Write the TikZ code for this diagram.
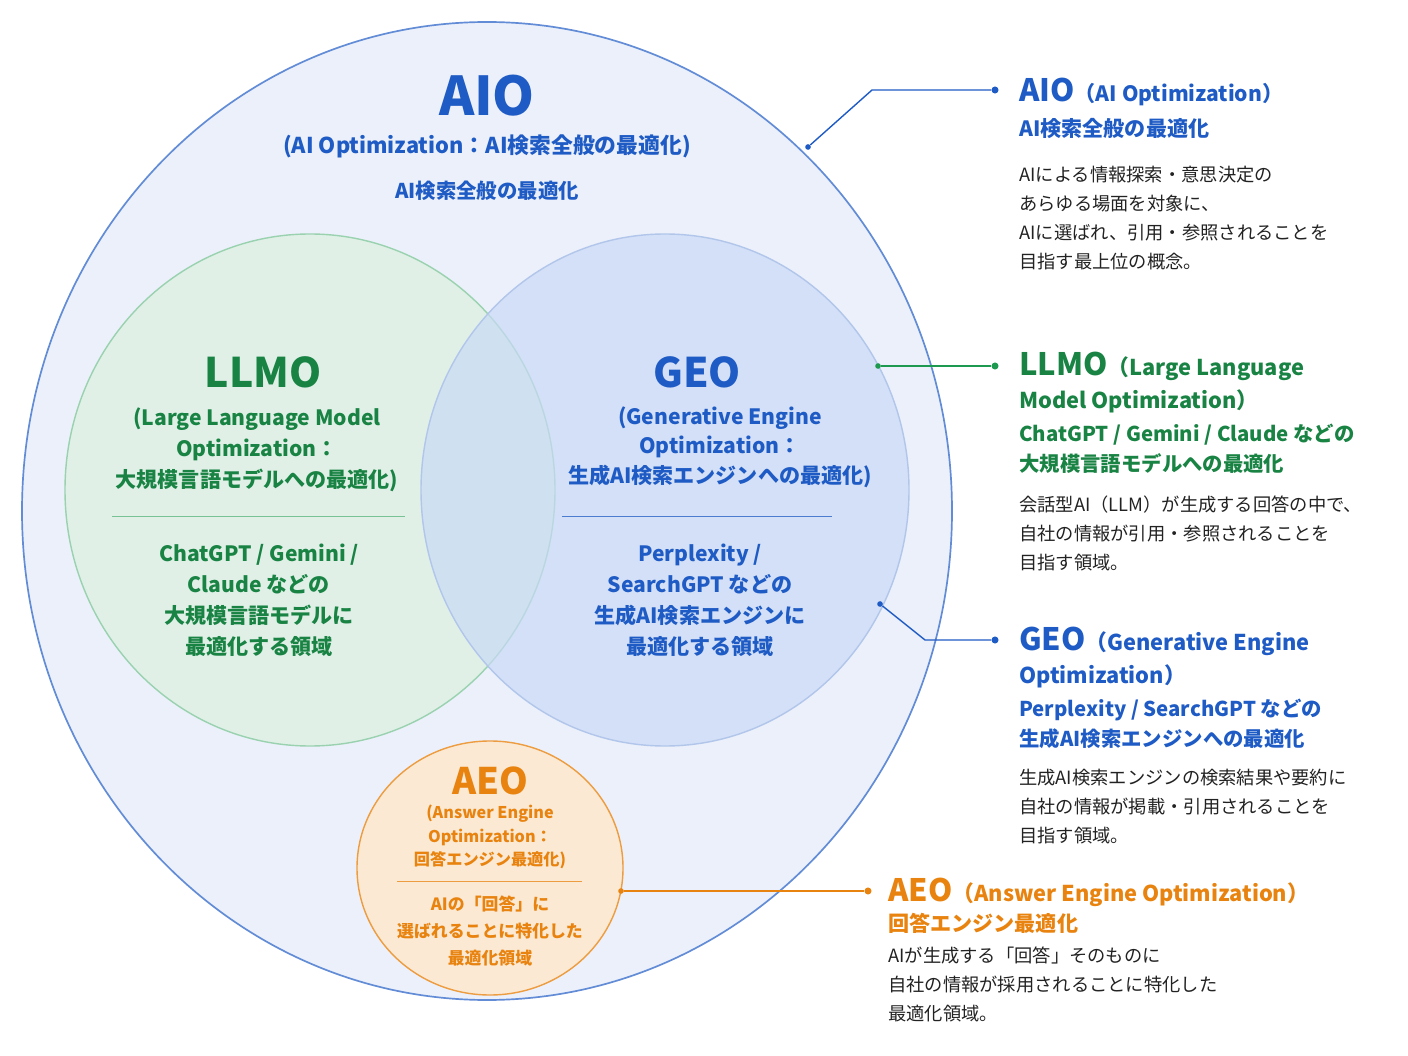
\documentclass[tikz,border=0pt]{standalone}
\usepackage{fontspec}
\setmainfont{Noto Sans CJK JP}
\definecolor{aioblue}{HTML}{1F5BC4}
\definecolor{llmogreen}{HTML}{1E9A50}
\definecolor{aeoorange}{HTML}{E8830F}
\definecolor{bodygray}{HTML}{222222}
\definecolor{geofill}{HTML}{C9DAF6}
\tikzset{
  ttl/.style={font=\fontsize{#1}{#1}\selectfont\bfseries, inner sep=0pt},
  sub/.style={font=\fontsize{13}{17}\selectfont\bfseries, align=center, inner sep=0pt},
  body/.style={font=\fontsize{13}{20.5}\selectfont, text=bodygray, align=left, anchor=north west, inner sep=0pt},
  dotnode/.style={circle, fill, inner sep=0pt, minimum size=5pt},
}
\begin{document}
\begin{tikzpicture}[x=0.025cm, y=-0.025cm]
  \useasboundingbox (0,0) rectangle (1408,1056);
  % circles
  \draw[aioblue!70, line width=1.2pt, fill=aioblue!9] (487,511) ellipse (465 and 489);
  \draw[llmogreen!45, line width=1pt, fill=llmogreen!14, fill opacity=0.9] (310,490) ellipse (245 and 256);
  \draw[aioblue!35, line width=1pt, fill=geofill, fill opacity=0.7] (665,490) ellipse (244 and 256);
  \draw[aeoorange!80, line width=1pt, fill=aeoorange!18] (490,868) ellipse (133 and 127);

  % AIO
  \node[ttl=38, text=aioblue] (aio) at (487,96) {AIO};
  \node[sub, text=aioblue, font=\fontsize{15.5}{18}\selectfont\bfseries] (aiosub) at (487,146) {(AI Optimization：AI検索全般の最適化)};
  \node[sub, text=aioblue, font=\fontsize{14.5}{18}\selectfont\bfseries] (aiodesc) at (487,191) {AI検索全般の最適化};

  % LLMO
  \node[ttl=29, text=llmogreen!85!black] (llmo) at (263,372) {LLMO};
  \node[sub, text=llmogreen!85!black, font=\fontsize{15}{22}\selectfont\bfseries] (llmosub) at (257,450) {(Large Language Model\\Optimization：\\大規模言語モデルへの最適化)};
  \draw[llmogreen!60] (112,516) -- (405,516);
  \node[sub, text=llmogreen!85!black, font=\fontsize{15}{22}\selectfont\bfseries] (llmodesc) at (259,600) {ChatGPT / Gemini /\\Claude などの\\大規模言語モデルに\\最適化する領域};

  % GEO
  \node[ttl=29, text=aioblue] (geo) at (697,372) {GEO};
  \node[sub, text=aioblue, font=\fontsize{15}{21}\selectfont\bfseries] (geosub) at (720,447) {(Generative Engine\\Optimization：\\生成AI検索エンジンへの最適化)};
  \draw[aioblue!80] (562,516) -- (832,516);
  \node[sub, text=aioblue, font=\fontsize{15}{22}\selectfont\bfseries] (geodesc) at (700,600) {Perplexity /\\SearchGPT などの\\生成AI検索エンジンに\\最適化する領域};

  % AEO
  \node[ttl=26, text=aeoorange] (aeo) at (490,781) {AEO};
  \node[sub, text=aeoorange, font=\fontsize{11.5}{16.5}\selectfont\bfseries] (aeosub) at (490,837) {(Answer Engine\\Optimization：\\回答エンジン最適化)};
  \draw[aeoorange!80] (397,881) -- (582,881);
  \node[sub, text=aeoorange, font=\fontsize{12}{19.5}\selectfont\bfseries] (aeodesc) at (490,931) {AIの「回答」に\\選ばれることに特化した\\最適化領域};

  % callouts
  \node[dotnode, aioblue, minimum size=4pt] (aiop) at (808,147) {};
  \node[dotnode, aioblue] (aioq) at (995,90) {};
  \draw[aioblue, line width=1pt] (aiop) -- (872,90) -- (aioq);
  \node[dotnode, llmogreen, minimum size=4pt] (llmop) at (878,366) {};
  \node[dotnode, llmogreen] (llmoq) at (995,366) {};
  \draw[llmogreen, line width=1pt] (llmop) -- (llmoq);
  \node[dotnode, aioblue, minimum size=4pt] (geop) at (880,604) {};
  \node[dotnode, aioblue] (geoq) at (995,640) {};
  \draw[aioblue, line width=1pt] (geop) -- (925,640) -- (geoq);
  \node[dotnode, aeoorange, minimum size=4pt] (aeop) at (621,891) {};
  \node[dotnode, aeoorange] (aeoq) at (868,891) {};
  \draw[aeoorange, line width=1pt] (aeop) -- (aeoq);

  % right column
  \node[anchor=west, inner sep=0pt, text=aioblue, font=\bfseries] (raio) at (1019,92)
    {{\fontsize{22}{22}\selectfont AIO}{\fontsize{15}{15}\selectfont（AI Optimization）}};
  \node[anchor=west, inner sep=0pt, text=aioblue, font=\fontsize{15}{15}\selectfont\bfseries] (raio2) at (1019,128) {AI検索全般の最適化};
  \node[body] (raiob) at (1019,166) {AIによる情報探索・意思決定の\\あらゆる場面を対象に、\\AIに選ばれ、引用・参照されることを\\目指す最上位の概念。};

  \node[anchor=north west, inner sep=0pt, text=llmogreen!85!black, font=\bfseries\fontsize{15.5}{23}\selectfont, align=left] (rllmo) at (1019,352)
    {{\fontsize{22}{22}\selectfont LLMO}（Large Language\\Model Optimization）};
  \node[anchor=north west, inner sep=0pt, text=llmogreen!85!black, font=\fontsize{14.5}{21}\selectfont\bfseries, align=left] (rllmo2) at (1019,424) {ChatGPT / Gemini / Claude などの\\大規模言語モデルへの最適化};
  \node[body] (rllmob) at (1019,496) {会話型AI（LLM）が生成する回答の中で、\\自社の情報が引用・参照されることを\\目指す領域。};

  \node[anchor=north west, inner sep=0pt, text=aioblue, font=\bfseries\fontsize{15.5}{23}\selectfont, align=left] (rgeo) at (1019,627)
    {{\fontsize{22}{22}\selectfont GEO}（Generative Engine\\Optimization）};
  \node[anchor=north west, inner sep=0pt, text=aioblue, font=\fontsize{14.5}{21}\selectfont\bfseries, align=left] (rgeo2) at (1019,699) {Perplexity / SearchGPT などの\\生成AI検索エンジンへの最適化};
  \node[body] (rgeob) at (1019,769) {生成AI検索エンジンの検索結果や要約に\\自社の情報が掲載・引用されることを\\目指す領域。};

  \node[anchor=west, inner sep=0pt, text=aeoorange, font=\bfseries] (raeo) at (888,892)
    {{\fontsize{22}{22}\selectfont AEO}{\fontsize{15.5}{15}\selectfont（Answer Engine Optimization）}};
  \node[anchor=west, inner sep=0pt, text=aeoorange, font=\fontsize{15}{15}\selectfont\bfseries] (raeo2) at (888,923) {回答エンジン最適化};
  \node[body] (raeob) at (888,947) {AIが生成する「回答」そのものに\\自社の情報が採用されることに特化した\\最適化領域。};
\end{tikzpicture}
\end{document}
